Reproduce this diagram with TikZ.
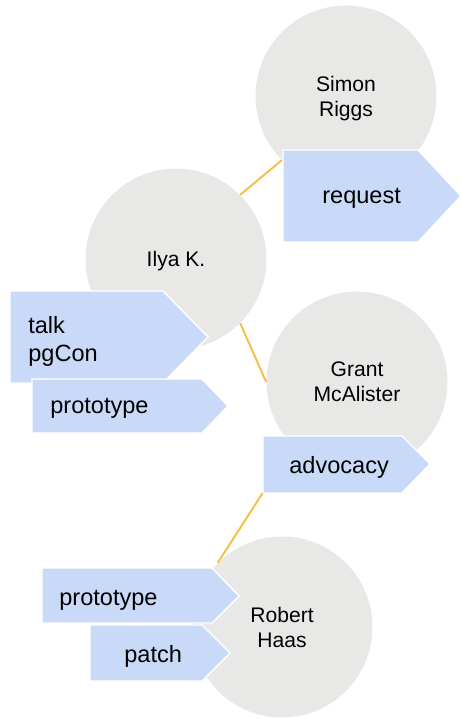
\documentclass[tikz,border=0pt]{standalone}
\usepackage{fontspec}
\setmainfont{Liberation Sans}
\usepackage{tikz}
\usetikzlibrary{calc}

\definecolor{persongray}{HTML}{E8E8E7}
\definecolor{tagblue}{HTML}{C9DAF8}
\definecolor{linkorange}{HTML}{F8BE44}

\tikzset{
  person/.style={circle, fill=persongray, minimum size=3.62cm, inner sep=0pt, text depth=0pt, align=center, font=\fontsize{12}{14.2}\selectfont},
  tagbox/.style={fill=tagblue, draw=white, line width=0.8pt, line join=miter},
  tagtext/.style={anchor=base west, inner sep=0pt, align=left, font=\fontsize{13.4}{16}\selectfont},
  link/.style={draw=linkorange, line width=1.1pt}
}

\begin{document}
\begin{tikzpicture}[x=0.02cm, y=-0.02cm]
  \useasboundingbox (0,0) rectangle (461,719);

  \node[person] (simon) at (346,96) {Simon\\Riggs};
  \node[person] (ilya) at (176,259) {Ilya K.};
  \node[person] (grant) at (357,382) {Grant\\McAlister};
  \node[person] (robert) at (282,627) {Robert\\Haas};

  \path[link] (ilya.north east) -- (simon.south west);
  \path[link] (ilya.south east) -- (grant.west);
  \path[link] (grant.south west) -- (robert.north west);

  % Simon
  \draw[tagbox] (283,150) -- (418,150) -- (461,196) -- (418,242) -- (283,242) -- cycle;
  \node[tagtext] (request) at (322,204) {request};

  % Ilya
  \draw[tagbox] (10,291) -- (163,291) -- (208,337) -- (163,383) -- (10,383) -- cycle;
  \node[tagtext, anchor=west] (talk) at (28,341) {talk\\pgCon};
  \draw[tagbox] (32,379) -- (202,379) -- (228,406) -- (202,433) -- (32,433) -- cycle;
  \node[tagtext] (protoilya) at (50,413) {prototype};

  % Grant
  \draw[tagbox] (263,436) -- (402,436) -- (430,464) -- (402,493) -- (263,493) -- cycle;
  \node[tagtext] (advocacy) at (289,473) {advocacy};

  % Robert
  \draw[tagbox] (42,568) -- (212,568) -- (239,596) -- (212,623) -- (42,623) -- cycle;
  \node[tagtext] (protorobert) at (59,605) {prototype};
  \draw[tagbox] (90,625) -- (202,625) -- (230,653) -- (202,681) -- (90,681) -- cycle;
  \node[tagtext] (patch) at (124,662) {patch};
\end{tikzpicture}
\end{document}
